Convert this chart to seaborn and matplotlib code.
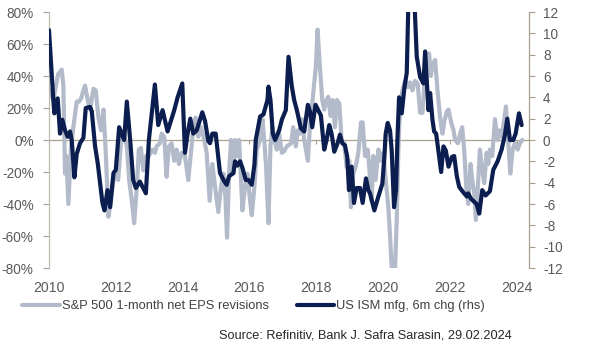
import numpy as np
import pandas as pd
import matplotlib
matplotlib.use("Agg")
import matplotlib.pyplot as plt
import seaborn as sns
from matplotlib.ticker import FuncFormatter, FixedLocator

# ---------------- data ----------------
eps_t = [2010.01, 2010.13, 2010.27, 2010.38, 2010.43, 2010.48, 2010.52, 2010.58, 2010.66, 2010.73,
         2010.83, 2010.90, 2010.96, 2011.03, 2011.08, 2011.16, 2011.23, 2011.33, 2011.40, 2011.48,
         2011.56, 2011.63, 2011.70, 2011.78, 2011.85, 2011.93, 2012.01, 2012.07, 2012.16, 2012.22,
         2012.33, 2012.40, 2012.48, 2012.55, 2012.63, 2012.69, 2012.75, 2012.82, 2012.90, 2012.99,
         2013.09, 2013.17, 2013.22, 2013.32, 2013.37, 2013.45, 2013.52, 2013.59, 2013.67, 2013.75,
         2013.82, 2013.89, 2013.97, 2014.07, 2014.17, 2014.25, 2014.32, 2014.39, 2014.47, 2014.55,
         2014.65, 2014.72, 2014.81, 2014.89, 2014.97, 2015.07, 2015.15, 2015.22, 2015.28, 2015.33,
         2015.39, 2015.45, 2015.52, 2015.57, 2015.64, 2015.69, 2015.74, 2015.79, 2015.87, 2015.94,
         2016.02, 2016.07, 2016.15, 2016.22, 2016.32, 2016.39, 2016.45, 2016.50, 2016.57, 2016.63,
         2016.69, 2016.75, 2016.82, 2016.89, 2016.97, 2017.04, 2017.12, 2017.25, 2017.31, 2017.39,
         2017.45, 2017.51, 2017.58, 2017.64, 2017.75, 2017.81, 2017.91, 2017.99, 2018.04, 2018.11,
         2018.18, 2018.24, 2018.31, 2018.36, 2018.43, 2018.49, 2018.56, 2018.62, 2018.69, 2018.76,
         2018.84, 2018.91, 2018.99, 2019.04, 2019.11, 2019.18, 2019.26, 2019.34, 2019.39, 2019.46,
         2019.54, 2019.58, 2019.66, 2019.71, 2019.78, 2019.86, 2019.94, 2020.01, 2020.08, 2020.16,
         2020.21, 2020.26, 2020.36, 2020.41, 2020.46, 2020.51, 2020.58, 2020.66, 2020.74, 2020.81,
         2020.88, 2020.96, 2021.04, 2021.11, 2021.18, 2021.24, 2021.31, 2021.38, 2021.43, 2021.49,
         2021.56, 2021.63, 2021.71, 2021.78, 2021.84, 2021.91, 2021.96, 2022.04, 2022.11, 2022.16,
         2022.24, 2022.31, 2022.37, 2022.43, 2022.49, 2022.55, 2022.62, 2022.67, 2022.73, 2022.78,
         2022.84, 2022.90, 2022.97, 2023.03, 2023.10, 2023.15, 2023.20, 2023.27, 2023.35, 2023.43,
         2023.48, 2023.55, 2023.63, 2023.68, 2023.75, 2023.81, 2023.88, 2023.95, 2024.03, 2024.10,
         2024.17]
eps_v = [31, 25, 41, 44, 34, -21, -10, -40, -4, 8,
         24, 24, 26, 31, 34, 25, 19, 32, 31, 14,
         6, 19, -8, -48, -38, -25, -22, -25, 0, 5,
         -4, -25, -38, -52, -29, -6, -5, -19, -10, -10,
         -6, -8, -4, -2, 4, 2, -23, -4, -2, -13,
         -6, -15, -8, -10, -25, -8, 8, 14, 2, 8,
         0, -8, -38, -15, -29, -45, -29, -21, -35, -61,
         -21, 0, -21, 0, -10, 0, -21, -44, -29, -21,
         -38, -47, -29, -6, 0, 13, -2, -17, -52, -4,
         8, 0, -6, 4, -8, -7, -4, -2, 8, -4,
         6, 4, 13, 0, -13, 8, 29, 46, 69, 46,
         25, 19, 25, 27, 15, 25, 8, 25, 23, 0,
         -2, -17, -13, -42, -21, -17, -8, 11, 11, -10,
         -6, -15, -38, -10, -25, -6, -13, -8, -25, -42,
         -60, -80, -80, -50, -6, 21, 31, 37, 33, 36,
         31, 37, 35, 17, 17, 35, 52, 54, 40, 48,
         50, 31, 14, 4, 12, 18, 19, 11, 6, 0,
         -2, 4, 8, -6, -29, -40, -15, -25, -33, -50,
         -29, -6, -19, -27, -8, -15, -6, -10, 13, 0,
         6, 2, 13, 21, -2, -21, -6, -2, -6, -2,
         0]

ism_t = [2010.00, 2010.13, 2010.16, 2010.26, 2010.33, 2010.40, 2010.48, 2010.56, 2010.63, 2010.68,
         2010.76, 2010.83, 2010.93, 2011.03, 2011.10, 2011.23, 2011.28, 2011.38, 2011.46, 2011.60,
         2011.66, 2011.75, 2011.83, 2011.93, 2012.00, 2012.10, 2012.25, 2012.33, 2012.43, 2012.52,
         2012.60, 2012.72, 2012.90, 2012.99, 2013.17, 2013.27, 2013.40, 2013.55, 2013.75, 2013.85,
         2013.99, 2014.07, 2014.15, 2014.23, 2014.32, 2014.42, 2014.59, 2014.67, 2014.77, 2014.82,
         2014.89, 2014.99, 2015.12, 2015.25, 2015.32, 2015.39, 2015.52, 2015.57, 2015.64, 2015.72,
         2015.79, 2015.89, 2015.97, 2016.07, 2016.15, 2016.19, 2016.32, 2016.42, 2016.54, 2016.57,
         2016.63, 2016.70, 2016.77, 2016.89, 2016.97, 2017.09, 2017.17, 2017.27, 2017.34, 2017.42,
         2017.54, 2017.64, 2017.75, 2017.81, 2017.88, 2017.98, 2018.06, 2018.14, 2018.24, 2018.31,
         2018.39, 2018.46, 2018.54, 2018.64, 2018.71, 2018.78, 2018.86, 2018.93, 2018.98, 2019.06,
         2019.13, 2019.21, 2019.31, 2019.39, 2019.49, 2019.56, 2019.61, 2019.74, 2019.86, 2019.98,
         2020.04, 2020.08, 2020.14, 2020.21, 2020.26, 2020.33, 2020.39, 2020.43, 2020.48, 2020.56,
         2020.64, 2020.71, 2020.76, 2020.84, 2020.94, 2021.01, 2021.11, 2021.21, 2021.26, 2021.31,
         2021.36, 2021.41, 2021.48, 2021.53, 2021.59, 2021.64, 2021.74, 2021.81, 2021.88, 2021.96,
         2022.06, 2022.13, 2022.21, 2022.28, 2022.40, 2022.51, 2022.55, 2022.63, 2022.73, 2022.80,
         2022.88, 2022.97, 2023.07, 2023.20, 2023.30, 2023.43, 2023.55, 2023.65, 2023.72, 2023.80,
         2023.90, 2023.97, 2024.07, 2024.15]
ism_v = [10.3, 3.75, 2.5, 3.9, 0.6, 1.9, 0.9, 0.3, 0.8, 0.0,
         -3.5, -1.3, -0.3, 0.2, 3.0, 3.1, 2.7, -0.6, -2.2, -5.9,
         -6.6, -4.7, -6.3, -3.1, -2.8, 1.2, 0.0, 3.6, 0.0, -3.75,
         -4.5, -3.9, -5.0, 0.0, 5.2, 1.4, 2.8, 0.8, 2.8, 4.0,
         5.3, -1.2, 0.6, 2.0, 0.6, 0.9, 2.6, 1.8, -0.1, -0.3,
         0.6, 0.6, -3.1, -3.9, -4.2, -3.4, -3.1, -2.0, -2.4, -2.0,
         -2.6, -3.75, -3.75, -4.2, -2.3, 0.0, 2.2, 2.4, 3.75, 5.0,
         3.75, 0.6, 0.0, 0.9, 1.9, 2.8, 7.8, 5.0, 3.75, 2.8,
         1.1, 0.8, 3.3, 2.7, 1.2, 3.3, 2.8, 2.3, -0.9, 0.0,
         1.4, 0.6, -1.1, -0.3, 0.5, -0.3, -0.5, -1.6, -4.7, -2.5,
         -5.9, -4.5, -4.5, -5.9, -3.6, -4.7, -5.0, -6.6, -5.3, -4.1,
         -1.6, 0.6, 1.6, 0.9, -1.0, -6.3, -4.7, 0.0, 4.0, 2.5,
         4.9, 6.3, 13.0, 16.0, 13.0, 7.8, 5.9, 5.3, 8.3, 5.5,
         2.8, 4.4, 1.9, 0.8, 0.6, -0.6, -3.0, -0.6, -1.0, -2.5,
         -1.6, -1.5, -3.4, -4.4, -4.9, -5.3, -5.0, -5.5, -5.8, -6.0,
         -6.9, -4.7, -5.2, -4.8, -2.8, -2.0, -0.9, 0.5, 2.0, 0.0,
         0.0, 0.6, 2.5, 1.4]

year_ticks = [2010, 2012, 2014, 2016, 2018, 2020, 2022, 2024]
left_ticks = [-80, -60, -40, -20, 0, 20, 40, 60, 80]
right_ticks = [-12, -10, -8, -6, -4, -2, 0, 2, 4, 6, 8, 10, 12]
eps_label = "S&P 500 1-month net EPS revisions"
ism_label = "US ISM mfg, 6m chg (rhs)"
source_text = "Source: Refinitiv, Bank J. Safra Sarasin, 29.02.2024"

# ---------------- style ----------------
sns.set_theme(style="white")
plt.rcParams["font.family"] = ["Liberation Sans", "DejaVu Sans"]

GRAY = "#b3bbca"
NAVY = "#0b1e4f"
SPINE = "#a8a08f"
TXT = "#595959"

fig = plt.figure(figsize=(5.89, 3.54), dpi=100)
ax = fig.add_axes([49 / 589, 1 - 268 / 354, (529 - 49) / 589, (268 - 12) / 354])
ax2 = ax.twinx()

eps_df = pd.DataFrame({"t": eps_t, "v": eps_v})
ism_df = pd.DataFrame({"t": ism_t, "v": ism_v})

sns.lineplot(data=eps_df, x="t", y="v", ax=ax, color=GRAY, lw=2.6, label=eps_label, legend=False)
sns.lineplot(data=ism_df, x="t", y="v", ax=ax2, color=NAVY, lw=2.6, label=ism_label, legend=False)
for a in (ax, ax2):
    for ln in a.get_lines():
        ln.set_solid_joinstyle("round")
        ln.set_solid_capstyle("round")

ax.set_xlim(2010, 2024.37)
ax.set_ylim(-80, 80)
ax2.set_ylim(-12, 12)
ax.set_xlabel("")
ax.set_ylabel("")
ax2.set_ylabel("")

# left axis
ax.yaxis.set_major_locator(FixedLocator(left_ticks))
ax.yaxis.set_major_formatter(FuncFormatter(lambda v, p: f"{int(v)}%"))
ax.tick_params(axis="y", which="major", direction="out", length=4, width=0.8,
               color=SPINE, labelsize=9.8, labelcolor=TXT, pad=7, left=True)
# right axis
ax2.yaxis.set_major_locator(FixedLocator(right_ticks))
ax2.yaxis.set_major_formatter(FuncFormatter(lambda v, p: f"{int(v)}"))
ax2.tick_params(axis="y", which="major", direction="out", length=4, width=0.8,
                color=SPINE, labelsize=9.8, labelcolor=TXT, pad=6, right=True)

for a in (ax, ax2):
    a.spines["top"].set_visible(False)
    a.spines["bottom"].set_visible(False)
    a.grid(False)
ax.spines["right"].set_visible(False)
ax2.spines["left"].set_visible(False)
ax.spines["left"].set_color("#bfbab0")
ax.spines["left"].set_linewidth(0.9)
ax2.spines["right"].set_color(SPINE)
ax2.spines["right"].set_linewidth(0.9)

# zero axis line with year ticks
ax.spines["bottom"].set_visible(True)
ax.spines["bottom"].set_position(("data", 0))
ax.spines["bottom"].set_color(SPINE)
ax.spines["bottom"].set_linewidth(0.9)
ax.spines["bottom"].set_zorder(0.5)
ax.xaxis.set_major_locator(FixedLocator(year_ticks))
ax.tick_params(axis="x", which="major", direction="out", length=3, width=0.8,
               color=SPINE, labelbottom=False, bottom=True)

# year labels at the bottom
sec = ax.secondary_xaxis(0.0)
sec.xaxis.set_major_locator(FixedLocator(year_ticks))
sec.xaxis.set_major_formatter(FuncFormatter(lambda v, p: f"{int(v)}"))
sec.tick_params(axis="x", length=0, labelsize=10.2, labelcolor=TXT, pad=9)
sec.spines["bottom"].set_visible(False)

# legend
h1, l1 = ax.get_legend_handles_labels()
h2, l2 = ax2.get_legend_handles_labels()
for h in h1 + h2:
    h.set_linewidth(3.0)
leg = fig.legend(h1 + h2, l1 + l2, loc="center left", bbox_to_anchor=(0.018, 0.135),
                 ncol=2, frameon=False, fontsize=9.3, handlelength=2.9, handletextpad=0.15,
                 columnspacing=2.2)
for t in leg.get_texts():
    t.set_color("#404040")

fig.text(512 / 589, 1 - 335 / 354, source_text, ha="right", va="center",
         fontsize=9.2, color="#262626")

fig.savefig("out.png", dpi=100, facecolor="white")
